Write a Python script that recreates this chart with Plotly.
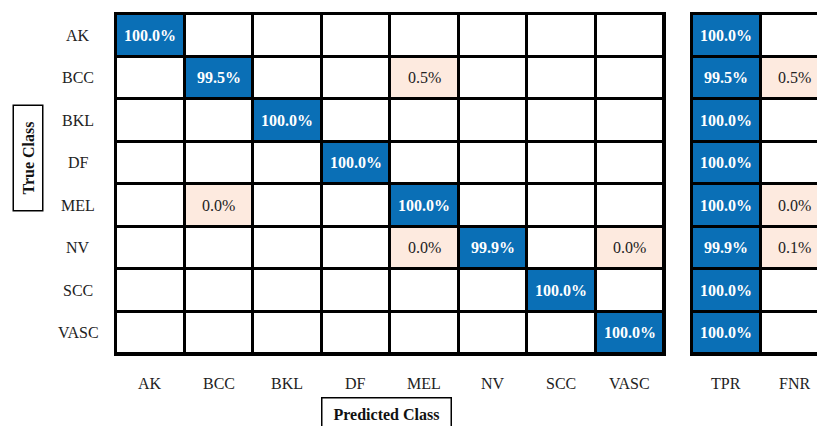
import plotly.graph_objects as go

classes = ['AK', 'BCC', 'BKL', 'DF', 'MEL', 'NV', 'SCC', 'VASC']
# row-normalised confusion matrix (%), None = empty cell
cm = [
    [100.0, None, None, None, None, None, None, None],
    [None, 99.5, None, None, 0.5, None, None, None],
    [None, None, 100.0, None, None, None, None, None],
    [None, None, None, 100.0, None, None, None, None],
    [None, 0.0, None, None, 100.0, None, None, None],
    [None, None, None, None, 0.0, 99.9, None, 0.0],
    [None, None, None, None, None, None, 100.0, None],
    [None, None, None, None, None, None, None, 100.0],
]
summary_cols = ['TPR', 'FNR']
tpr = [100.0, 99.5, 100.0, 100.0, 100.0, 99.9, 100.0, 100.0]
fnr = [None, 0.5, None, None, 0.0, 0.1, None, None]

BLUE = '#0A6FB6'
PEACH = '#FDEADF'
FONT = 'Liberation Serif, Times New Roman, serif'

W, H = 817, 426
L, T, B = 116, 14, 72
plot_w = W - L
main_end = (664 - L) / plot_w
side_start = (692 - L) / plot_w
col_w = (664 - 116) / 8.0
side_cols_visible = (W - 692) / col_w

def cat_matrix(mat, diag_is_blue):
    z = []
    for i, row in enumerate(mat):
        zr = []
        for j, v in enumerate(row):
            if v is None:
                zr.append(0)
            else:
                zr.append(2 if diag_is_blue(i, j) else 1)
        z.append(zr)
    return z

cs = [[0, 'white'], [0.3333, 'white'], [0.3334, PEACH], [0.6666, PEACH], [0.6667, BLUE], [1, BLUE]]

z_main = cat_matrix(cm, lambda i, j: i == j)
side = [[tpr[i], fnr[i]] for i in range(8)]
z_side = cat_matrix(side, lambda i, j: j == 0)

fig = go.Figure()
fig.add_trace(go.Heatmap(z=z_main, x=list(range(8)), y=list(range(8)), colorscale=cs,
                         zmin=0, zmax=2, showscale=False, xgap=3, ygap=3,
                         hoverinfo='skip', xaxis='x', yaxis='y'))
fig.add_trace(go.Heatmap(z=z_side, x=list(range(2)), y=list(range(8)), colorscale=cs,
                         zmin=0, zmax=2, showscale=False, xgap=3, ygap=3,
                         hoverinfo='skip', xaxis='x2', yaxis='y2'))

annotations = []
for mat, fn, xa, ya in [(cm, lambda i, j: i == j, 'x', 'y'), (side, lambda i, j: j == 0, 'x2', 'y2')]:
    for i, row in enumerate(mat):
        for j, v in enumerate(row):
            if v is None:
                continue
            blue = fn(i, j)
            s = f'{v:.1f}%'
            annotations.append(dict(x=j, xref=xa, y=i, yref=ya,
                                    text=f'<b>{s}</b>' if blue else s, showarrow=False,
                                    xanchor='center', yanchor='middle',
                                    font=dict(family=FONT, size=16,
                                              color='white' if blue else '#222222')))

for i, c in enumerate(classes):
    annotations.append(dict(x=(78 - L) / plot_w, xref='paper', y=i, yref='y', text=c,
                            showarrow=False, xanchor='center', yanchor='middle',
                            font=dict(family=FONT, size=16, color='#222222')))
label_y = -(383 - (H - B)) / (H - B - T)
for j, c in enumerate(classes):
    annotations.append(dict(x=j, xref='x', y=label_y, yref='paper', text=c,
                            showarrow=False, xanchor='center', yanchor='middle',
                            font=dict(family=FONT, size=16, color='#222222')))
for j, c in enumerate(summary_cols):
    annotations.append(dict(x=j, xref='x2', y=label_y, yref='paper', text=c,
                            showarrow=False, xanchor='center', yanchor='middle',
                            font=dict(family=FONT, size=16, color='#222222')))

# axis titles in boxes
annotations.append(dict(x=(27.5 - L) / plot_w, xref='paper', y=1 - (158 - T) / (H - B - T), yref='paper',
                        text='<b>True Class</b>', textangle=-90, showarrow=False,
                        xanchor='center', yanchor='middle', bordercolor='black', borderwidth=1.5,
                        borderpad=2, width=100, height=24, bgcolor='white',
                        font=dict(family=FONT, size=16, color='#111111')))
annotations.append(dict(x=(386 - L) / plot_w, xref='paper', y=-(414 - (H - B)) / (H - B - T), yref='paper',
                        text='<b>Predicted Class</b>', showarrow=False,
                        xanchor='center', yanchor='middle', bordercolor='black', borderwidth=1.5,
                        borderpad=2, width=124, height=28, bgcolor='white',
                        font=dict(family=FONT, size=16, color='#111111')))

fig.update_layout(
    width=W, height=H,
    margin=dict(l=L, r=0, t=T, b=B),
    paper_bgcolor='white', plot_bgcolor='black',
    showlegend=False,
    annotations=annotations,
    xaxis=dict(domain=[0, main_end], range=[-0.5, 7.5], showticklabels=False, showgrid=False,
               zeroline=False, showline=True, linecolor='black', linewidth=2, mirror=True, anchor='y'),
    yaxis=dict(range=[7.5, -0.5], showticklabels=False, showgrid=False, zeroline=False,
               showline=True, linecolor='black', linewidth=2, mirror=True, anchor='x'),
    xaxis2=dict(domain=[side_start, 1], range=[-0.5, -0.5 + side_cols_visible], showticklabels=False,
                showgrid=False, zeroline=False, showline=True, linecolor='black', linewidth=2,
                mirror=True, anchor='y2'),
    yaxis2=dict(range=[7.5, -0.5], showticklabels=False, showgrid=False, zeroline=False,
                showline=True, linecolor='black', linewidth=2, mirror=False, anchor='x2'),
)

fig.write_html('out.html')
